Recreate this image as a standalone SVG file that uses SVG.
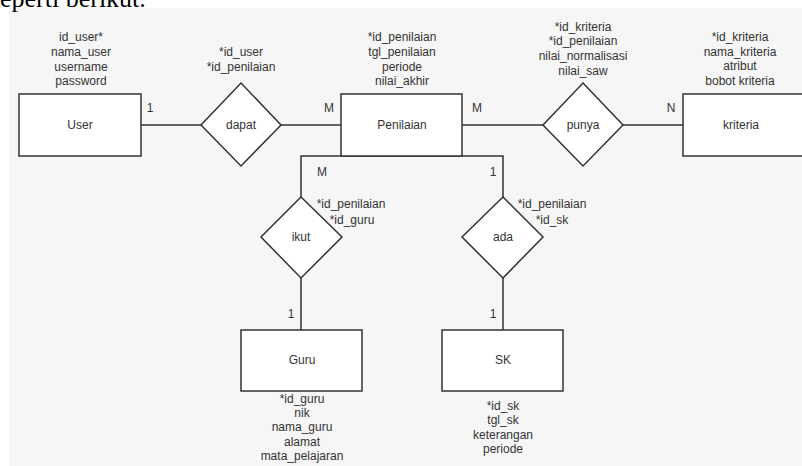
<svg xmlns="http://www.w3.org/2000/svg" width="802" height="466" viewBox="0 0 802 466">
<style>
.bg{fill:#f6f6f6}
.shape{fill:#ffffff;stroke:#333333;stroke-width:1.5}
.line{fill:none;stroke:#333333;stroke-width:1.5}
text{font-family:"Liberation Sans",Arial,sans-serif;font-size:12px;fill:#333333;text-anchor:middle}
.lbl{text-anchor:middle}
.cap{font-family:"Liberation Serif","Times New Roman",serif;font-size:26px;fill:#000000;text-anchor:start}
</style>
<rect x="0" y="0" width="802" height="466" fill="#ffffff"/>
<rect class="bg" x="9" y="8" width="793" height="458"/>
<text class="cap" x="0" y="7">eperti berikut.</text>

<g id="connectors">
<line class="line" x1="141" y1="125" x2="201" y2="125"/>
<line class="line" x1="281" y1="125" x2="341" y2="125"/>
<line class="line" x1="462" y1="125" x2="543" y2="125"/>
<line class="line" x1="623" y1="125" x2="683" y2="125"/>
<polyline class="line" points="301,197 301,156 503,156 503,197"/>
<line class="line" x1="301" y1="278" x2="301" y2="330"/>
<line class="line" x1="503" y1="278" x2="503" y2="330"/>
<text x="150" y="112">1</text>
<text x="329" y="112">M</text>
<text x="477" y="112">M</text>
<text x="671" y="112">N</text>
<text x="322" y="176">M</text>
<text x="493" y="176">1</text>
<text x="291" y="318">1</text>
<text x="493" y="318">1</text>
</g>

<g id="user">
<rect class="shape" x="19" y="94" width="122" height="62"/>
<text x="80" y="129">User</text>
<text x="81" y="41">id_user*</text>
<text x="81" y="56">nama_user</text>
<text x="81" y="71">username</text>
<text x="81" y="85">password</text>
</g>

<g id="dapat">
<polygon class="shape" points="241,83 281,125 241,166 201,125"/>
<text x="241" y="129">dapat</text>
<text x="241" y="56">*id_user</text>
<text x="241" y="71">*id_penilaian</text>
</g>

<g id="penilaian">
<rect class="shape" x="341" y="94" width="121" height="62"/>
<text x="402" y="129">Penilaian</text>
<text x="402" y="41">*id_penilaian</text>
<text x="402" y="56">tgl_penilaian</text>
<text x="402" y="71">periode</text>
<text x="402" y="85">nilai_akhir</text>
</g>

<g id="punya">
<polygon class="shape" points="583,83 623,125 583,166 543,125"/>
<text x="583" y="129">punya</text>
<text x="583" y="31">*id_kriteria</text>
<text x="583" y="45">*id_penilaian</text>
<text x="583" y="60">nilai_normalisasi</text>
<text x="583" y="75">nilai_saw</text>
</g>

<g id="kriteria">
<rect class="shape" x="683" y="94" width="130" height="62"/>
<text x="741" y="129">kriteria</text>
<text x="740" y="41">*id_kriteria</text>
<text x="740" y="56">nama_kriteria</text>
<text x="740" y="70">atribut</text>
<text x="740" y="85">bobot kriteria</text>
</g>

<g id="ikut">
<polygon class="shape" points="301,197 342,237 301,278 261,237"/>
<text x="301" y="241">ikut</text>
<text x="351" y="208">*id_penilaian</text>
<text x="352" y="224">*id_guru</text>
</g>

<g id="ada">
<polygon class="shape" points="503,197 543,237 503,278 462,237"/>
<text x="503" y="241">ada</text>
<text x="552" y="208">*id_penilaian</text>
<text x="552" y="224">*id_sk</text>
</g>

<g id="guru">
<rect class="shape" x="241" y="330" width="121" height="61"/>
<text x="302" y="364">Guru</text>
<text x="302" y="403">*id_guru</text>
<text x="302" y="417">nik</text>
<text x="302" y="431">nama_guru</text>
<text x="302" y="446">alamat</text>
<text x="302" y="460">mata_pelajaran</text>
</g>

<g id="sk">
<rect class="shape" x="442" y="330" width="121" height="61"/>
<text x="503" y="364">SK</text>
<text x="503" y="410">*id_sk</text>
<text x="503" y="424">tgl_sk</text>
<text x="503" y="439">keterangan</text>
<text x="503" y="453">periode</text>
</g>
</svg>
